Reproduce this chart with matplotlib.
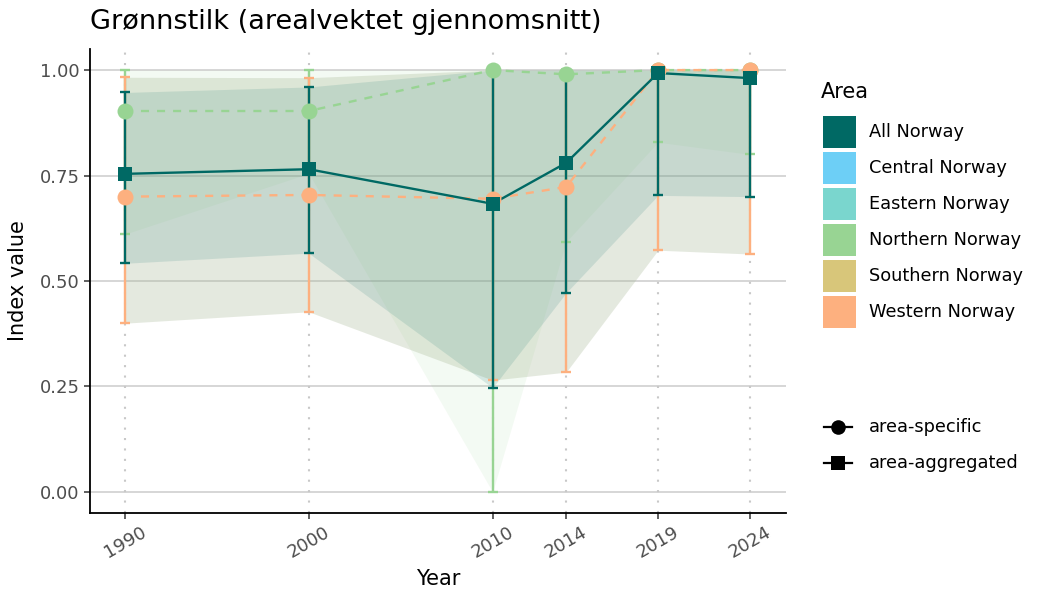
import matplotlib
matplotlib.use("Agg")
import matplotlib.pyplot as plt
from matplotlib.patches import Rectangle
from matplotlib.lines import Line2D

# ---- data ----
years = [1990, 2000, 2010, 2014, 2019, 2024]
year_labels = ["1990", "2000", "2010", "2014", "2019", "2024"]

all_norway = [0.754, 0.765, 0.683, 0.780, 0.993, 0.981]
all_low = [0.542, 0.566, 0.247, 0.472, 0.703, 0.700]
all_high = [0.947, 0.960, 1.0, 1.0, 1.0, 1.0]

northern = [0.903, 0.903, 1.0, 0.990, 1.0, 1.0]
north_low = [0.611, 0.755, 0.0, 0.593, 0.829, 0.800]
north_high = [1.0, 1.0, 1.0, 1.0, 1.0, 1.0]

western = [0.700, 0.704, 0.695, 0.723, 1.0, 1.0]
west_low = [0.400, 0.427, 0.265, 0.284, 0.573, 0.564]
west_high = [0.983, 0.982, 1.0, 1.0, 1.0, 1.0]

areas = ["All Norway", "Central Norway", "Eastern Norway",
         "Northern Norway", "Southern Norway", "Western Norway"]
area_colors = ["#006964", "#6DCFF6", "#7AD6CE", "#98D493", "#D8C67A", "#FDB07F"]
shape_labels = ["area-specific", "area-aggregated"]
yticks = [0.0, 0.25, 0.5, 0.75, 1.0]
ytick_labels = ["0.00", "0.25", "0.50", "0.75", "1.00"]

C_ALL, C_NORTH, C_WEST = area_colors[0], area_colors[3], area_colors[5]
W, H = 1050, 600

fig = plt.figure(figsize=(10.5, 6), dpi=100)
ax = fig.add_axes([90 / W, 87 / H, (786 - 90) / W, (513 - 49) / H])

# grid
for yt in yticks:
    ax.axhline(yt, color="#cccccc", lw=1.1, zorder=0)
for x in years:
    ax.axvline(x, color="#c8c8c8", lw=1.5, ls=(0, (1, 4)), zorder=0)

# ribbons
ax.fill_between(years, north_low, north_high, color=C_NORTH, alpha=0.11, lw=0, zorder=1)
ax.fill_between(years, west_low, west_high, color="#a8b896", alpha=0.30, lw=0, zorder=1)
ax.fill_between(years, all_low, all_high, color=C_ALL, alpha=0.125, lw=0, zorder=1)

# error bars
def ebar(y, lo, hi, c, z):
    yerr = [[v - l for v, l in zip(y, lo)], [h - v for v, h in zip(y, hi)]]
    ax.errorbar(years, y, yerr=yerr, fmt="none", ecolor=c, elinewidth=1.7,
                capsize=3.6, capthick=1.7, zorder=z)

ebar(northern, north_low, north_high, C_NORTH, 2)
ebar(western, west_low, west_high, C_WEST, 2.1)
ebar(all_norway, all_low, all_high, C_ALL, 2.2)

# lines
ax.plot(years, northern, color=C_NORTH, lw=1.7, ls=(0, (3.4, 3.4)), zorder=3)
ax.plot(years, western, color=C_WEST, lw=1.7, ls=(0, (3.4, 3.4)), zorder=3.1)
ax.plot(years, all_norway, color=C_ALL, lw=1.7, zorder=3.2)

# points
ax.plot(years, northern, "o", color=C_NORTH, ms=11.5, mew=0, zorder=4)
ax.plot(years, western, "o", color=C_WEST, ms=11.5, mew=0, zorder=4.1)
ax.plot(years, all_norway, "s", color=C_ALL, ms=10.5, mew=0, zorder=4.2)

ax.set_xlim(1988.1, 2025.96)
ax.set_ylim(-0.05, 1.05)
ax.set_xticks(years)
ax.set_xticklabels(year_labels, rotation=30, ha="center", va="top")
ax.set_yticks(yticks)
ax.set_yticklabels(ytick_labels)
ax.tick_params(axis="both", colors="#333333", labelcolor="#4d4d4d", labelsize=13,
               length=4, width=1.1)
for s in ["top", "right"]:
    ax.spines[s].set_visible(False)
for s in ["left", "bottom"]:
    ax.spines[s].set_linewidth(1.3)
    ax.spines[s].set_color("black")

ax.set_xlabel("Year", fontsize=15, labelpad=5)
ax.set_ylabel("Index value", fontsize=15, labelpad=8)
fig.text(90 / W, 1 - 22 / H, "Grønnstilk (arealvektet gjennomsnitt)",
         fontsize=19.5, ha="left", va="center")

# ---- legends (drawn in figure pixel coordinates) ----
def fx(px):
    return px / W

def fy(py):
    return 1 - py / H

fig.text(fx(821), fy(92), "Area", fontsize=15, ha="left", va="center")
for i, (a, c) in enumerate(zip(areas, area_colors)):
    top = 116 + i * 36
    fig.add_artist(Rectangle((fx(823), fy(top + 32)), 33 / W, 32 / H,
                             transform=fig.transFigure, facecolor=c, edgecolor="none"))
    fig.text(fx(869), fy(top + 16), a, fontsize=12.8, ha="left", va="center")

for i, (lab, mk, ms) in enumerate(zip(shape_labels, ["o", "s"], [10.5, 9.5])):
    yc = 427 + i * 36
    fig.add_artist(Line2D([fx(824), fx(852)], [fy(yc), fy(yc)], transform=fig.transFigure,
                          color="black", lw=1.6))
    fig.add_artist(Line2D([fx(838)], [fy(yc)], transform=fig.transFigure, color="black",
                          marker=mk, ms=ms, mew=0, lw=0))
    fig.text(fx(869), fy(yc), lab, fontsize=12.8, ha="left", va="center")

fig.savefig("out.png", dpi=100)
